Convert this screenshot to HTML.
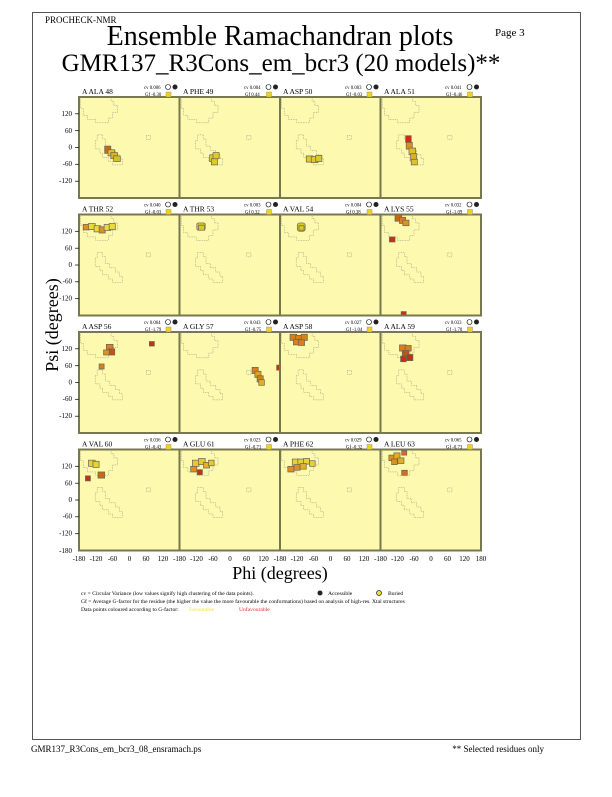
<!DOCTYPE html>
<html><head><meta charset="utf-8"><style>
body{margin:0;width:612px;height:792px;background:#fff;position:relative;font-family:"Liberation Serif",serif;overflow:hidden}
</style></head><body>
<svg width="612" height="792" viewBox="0 0 612 792" xmlns="http://www.w3.org/2000/svg" font-family="Liberation Serif, serif">
<defs>
<g id="bg">
<rect x="-180" y="-180" width="360" height="360" fill="#fdf9ae"/>
<g fill="none" stroke="#777" stroke-width="1.6" stroke-dasharray="3 3">
<polygon points="-174,-180 -174,-140 -165,-140 -165,-115 -150,-115 -150,-100 -120,-100 -120,-88 -75,-88 -75,-105 -60,-105 -60,-125 -42,-125 -42,-150 -55,-150 -55,-165 -65,-165 -65,-180"/>
<polygon points="-115,-45 -115,-25 -122,-25 -122,5 -105,5 -105,20 -95,20 -95,35 -75,35 -75,50 -60,50 -60,62 -25,62 -25,40 -35,40 -35,25 -50,25 -50,10 -70,10 -70,-5 -85,-5 -85,-30 -95,-30 -95,-45"/>
<rect x="61" y="-43" width="15" height="14"/>
</g>
</g>
</defs>
<rect x="32.5" y="12.5" width="548" height="727" fill="none" stroke="#555" stroke-width="1"/>
<text x="45" y="23" font-size="9">PROCHECK-NMR</text>
<text x="495" y="36" font-size="11">Page  3</text>
<text x="280" y="45" font-size="28" text-anchor="middle">Ensemble Ramachandran plots</text>
<text x="281" y="71" font-size="25" text-anchor="middle">GMR137_R3Cons_em_bcr3 (20 models)**</text>

<g stroke="#665" stroke-width="2.5">
<!-- row1 -->
<svg x="79" y="97" width="100.5" height="101" viewBox="-180 -180 360 360" preserveAspectRatio="none"><use href="#bg"/>
<g><rect x="-88" y="-5" width="22" height="26" fill="#c86a10"/><rect x="-76" y="8" width="24" height="22" fill="#e8c020"/><rect x="-66" y="18" width="24" height="22" fill="#e0b020"/><rect x="-56" y="30" width="24" height="20" fill="#d8c020"/></g></svg>
<svg x="179.5" y="97" width="100.5" height="101" viewBox="-180 -180 360 360" preserveAspectRatio="none"><use href="#bg"/>
<g fill="#e0c830"><rect x="-72" y="26" width="24" height="24"/><rect x="-66" y="40" width="22" height="22"/><rect x="-60" y="18" width="22" height="22"/></g></svg>
<svg x="280" y="97" width="100.5" height="101" viewBox="-180 -180 360 360" preserveAspectRatio="none"><use href="#bg"/>
<g fill="#e0c830"><rect x="-86" y="30" width="24" height="22"/><rect x="-68" y="32" width="24" height="22"/><rect x="-52" y="28" width="22" height="22"/></g></svg>
<svg x="380.5" y="97" width="100.5" height="101" viewBox="-180 -180 360 360" preserveAspectRatio="none"><use href="#bg"/>
<g><rect x="-90" y="-42" width="20" height="24" fill="#c83010"/><rect x="-88" y="-18" width="22" height="24" fill="#d89020"/><rect x="-78" y="2" width="24" height="24" fill="#e0c030"/><rect x="-72" y="22" width="22" height="24" fill="#d8b020"/><rect x="-70" y="42" width="22" height="20" fill="#e0c030"/></g></svg>
<!-- row2 -->
<svg x="79" y="214.5" width="100.5" height="101" viewBox="-180 -180 360 360" preserveAspectRatio="none"><use href="#bg"/>
<g><rect x="-165" y="-145" width="22" height="20" fill="#e09020"/><rect x="-146" y="-148" width="24" height="22" fill="#eed840"/><rect x="-126" y="-140" width="24" height="22" fill="#eed840"/><rect x="-108" y="-136" width="22" height="22" fill="#e09020"/><rect x="-90" y="-145" width="24" height="22" fill="#eed840"/><rect x="-72" y="-148" width="22" height="22" fill="#eed840"/></g></svg>
<svg x="179.5" y="214.5" width="100.5" height="101" viewBox="-180 -180 360 360" preserveAspectRatio="none"><use href="#bg"/>
<g fill="#d8c828"><rect x="-118" y="-150" width="30" height="26" rx="6"/><rect x="-112" y="-142" width="22" height="18"/></g></svg>
<svg x="280" y="214.5" width="100.5" height="101" viewBox="-180 -180 360 360" preserveAspectRatio="none"><use href="#bg"/>
<g fill="#d8c828"><rect x="-118" y="-150" width="28" height="30" rx="8"/><rect x="-112" y="-140" width="18" height="16"/></g></svg>
<svg x="380.5" y="214.5" width="100.5" height="101" viewBox="-180 -180 360 360" preserveAspectRatio="none"><use href="#bg"/>
<g><rect x="-128" y="-178" width="24" height="22" fill="#c86a10"/><rect x="-112" y="-170" width="22" height="22" fill="#d88020"/><rect x="-100" y="-160" width="22" height="20" fill="#e09020"/><rect x="-148" y="-100" width="20" height="18" fill="#c83010"/><rect x="-106" y="166" width="18" height="16" fill="#c83010"/></g></svg>
<!-- row3 -->
<svg x="79" y="332" width="100.5" height="101" viewBox="-180 -180 360 360" preserveAspectRatio="none"><use href="#bg"/>
<g><rect x="-82" y="-136" width="24" height="24" fill="#d88020"/><rect x="-74" y="-120" width="22" height="22" fill="#c85010"/><rect x="-92" y="-116" width="20" height="18" fill="#e09020"/><rect x="72" y="-146" width="18" height="16" fill="#c83010"/><rect x="-108" y="-66" width="18" height="18" fill="#d88020"/></g></svg>
<svg x="179.5" y="332" width="100.5" height="101" viewBox="-180 -180 360 360" preserveAspectRatio="none"><use href="#bg"/>
<g><rect x="80" y="-54" width="22" height="22" fill="#d88020"/><rect x="90" y="-40" width="22" height="22" fill="#e0a020"/><rect x="98" y="-24" width="22" height="22" fill="#d88020"/><rect x="104" y="-10" width="20" height="20" fill="#e0b020"/><rect x="168" y="-62" width="16" height="18" fill="#c83010"/></g></svg>
<svg x="280" y="332" width="100.5" height="101" viewBox="-180 -180 360 360" preserveAspectRatio="none"><use href="#bg"/>
<g fill="#d88020"><rect x="-144" y="-172" width="24" height="22"/><rect x="-124" y="-168" width="24" height="22"/><rect x="-104" y="-172" width="22" height="22"/><rect x="-132" y="-154" width="22" height="20"/><rect x="-114" y="-152" width="22" height="20"/></g></svg>
<svg x="380.5" y="332" width="100.5" height="101" viewBox="-180 -180 360 360" preserveAspectRatio="none"><use href="#bg"/>
<g><rect x="-112" y="-134" width="24" height="22" fill="#d88020"/><rect x="-92" y="-132" width="22" height="20" fill="#d88020"/><rect x="-102" y="-114" width="24" height="22" fill="#c85010"/><rect x="-86" y="-100" width="22" height="22" fill="#c83010"/><rect x="-108" y="-94" width="20" height="20" fill="#c83010"/></g></svg>
<!-- row4 -->
<svg x="79" y="449.5" width="100.5" height="101" viewBox="-180 -180 360 360" preserveAspectRatio="none"><use href="#bg"/>
<g><rect x="-146" y="-142" width="24" height="22" fill="#e8d038"/><rect x="-130" y="-138" width="22" height="22" fill="#e8d038"/><rect x="-112" y="-100" width="24" height="22" fill="#c86a10"/><rect x="-157" y="-86" width="18" height="18" fill="#c83010"/></g></svg>
<svg x="179.5" y="449.5" width="100.5" height="101" viewBox="-180 -180 360 360" preserveAspectRatio="none"><use href="#bg"/>
<g><rect x="-134" y="-142" width="24" height="22" fill="#e8c838"/><rect x="-112" y="-148" width="24" height="22" fill="#e8c838"/><rect x="-94" y="-134" width="22" height="20" fill="#e0b030"/><rect x="-140" y="-120" width="22" height="20" fill="#e09020"/><rect x="-76" y="-142" width="20" height="20" fill="#e8c838"/><rect x="-116" y="-108" width="18" height="18" fill="#c83010"/></g></svg>
<svg x="280" y="449.5" width="100.5" height="101" viewBox="-180 -180 360 360" preserveAspectRatio="none"><use href="#bg"/>
<g><rect x="-152" y="-120" width="22" height="20" fill="#e09020"/><rect x="-136" y="-146" width="24" height="22" fill="#e8d038"/><rect x="-116" y="-146" width="24" height="22" fill="#e8d038"/><rect x="-96" y="-148" width="22" height="20" fill="#e8d038"/><rect x="-130" y="-126" width="22" height="20" fill="#e09020"/><rect x="-108" y="-130" width="22" height="20" fill="#e0b030"/><rect x="-74" y="-140" width="20" height="20" fill="#e8d038"/></g></svg>
<svg x="380.5" y="449.5" width="100.5" height="101" viewBox="-180 -180 360 360" preserveAspectRatio="none"><use href="#bg"/>
<g><rect x="-150" y="-160" width="22" height="20" fill="#e09020"/><rect x="-132" y="-168" width="22" height="22" fill="#e0b020"/><rect x="-140" y="-146" width="20" height="20" fill="#e09020"/><rect x="-118" y="-150" width="22" height="20" fill="#e0b020"/><rect x="-104" y="-176" width="18" height="16" fill="#d86a20"/><rect x="-104" y="-106" width="20" height="18" fill="#d86a20"/></g></svg>
</g>
<g stroke="#777750" stroke-width="2" fill="none">
<rect x="79" y="97" width="402" height="101"/><line x1="179.5" y1="97" x2="179.5" y2="198"/><line x1="280" y1="97" x2="280" y2="198"/><line x1="380.5" y1="97" x2="380.5" y2="198"/>
<rect x="79" y="214.5" width="402" height="101"/><line x1="179.5" y1="214.5" x2="179.5" y2="315.5"/><line x1="280" y1="214.5" x2="280" y2="315.5"/><line x1="380.5" y1="214.5" x2="380.5" y2="315.5"/>
<rect x="79" y="332" width="402" height="101"/><line x1="179.5" y1="332" x2="179.5" y2="433"/><line x1="280" y1="332" x2="280" y2="433"/><line x1="380.5" y1="332" x2="380.5" y2="433"/>
<rect x="79" y="449.5" width="402" height="101"/><line x1="179.5" y1="449.5" x2="179.5" y2="550.5"/><line x1="280" y1="449.5" x2="280" y2="550.5"/><line x1="380.5" y1="449.5" x2="380.5" y2="550.5"/>
</g>
<g font-size="7" text-anchor="end">
<g id="yt"><text x="72" y="116">120</text><text x="72" y="133">60</text><text x="72" y="149.5">0</text><text x="72" y="166">-60</text><text x="72" y="183">-120</text></g>
<use href="#yt" y="117.5"/><use href="#yt" y="235"/><use href="#yt" y="352.5"/>
<text x="72" y="553">-180</text>
</g>
<g stroke="#000" stroke-width="0.7">
<g id="ytl"><line x1="75" y1="113.8" x2="79" y2="113.8"/><line x1="75" y1="130.7" x2="79" y2="130.7"/><line x1="75" y1="147.5" x2="79" y2="147.5"/><line x1="75" y1="164.3" x2="79" y2="164.3"/><line x1="75" y1="181.2" x2="79" y2="181.2"/></g>
<use href="#ytl" y="117.5"/><use href="#ytl" y="235"/><use href="#ytl" y="352.5"/>
</g>
<g font-size="7" text-anchor="middle">
<g id="xt"><text x="79" y="561">-180</text><text x="96" y="561">-120</text><text x="112.5" y="561">-60</text><text x="129.5" y="561">0</text><text x="146" y="561">60</text><text x="163" y="561">120</text></g>
<use href="#xt" x="100.5"/><use href="#xt" x="201"/><use href="#xt" x="301.5"/>
<text x="481" y="561">180</text>
</g>
<text x="280" y="579" font-size="18" text-anchor="middle">Phi (degrees)</text>
<text transform="translate(58,325) rotate(-90)" font-size="18" text-anchor="middle">Psi (degrees)</text>
<g font-size="7.5">
<text x="82" y="94">A ALA 48</text><text x="183" y="94">A PHE 49</text><text x="283" y="94">A ASP 50</text><text x="384" y="94">A ALA 51</text>
<text x="82" y="211.5">A THR 52</text><text x="183" y="211.5">A THR 53</text><text x="283" y="211.5">A VAL 54</text><text x="384" y="211.5">A LYS 55</text>
<text x="82" y="329">A ASP 56</text><text x="183" y="329">A GLY 57</text><text x="283" y="329">A ASP 58</text><text x="384" y="329">A ALA 59</text>
<text x="82" y="446.5">A VAL 60</text><text x="183" y="446.5">A GLU 61</text><text x="283" y="446.5">A PHE 62</text><text x="384" y="446.5">A LEU 63</text>
</g>
<g font-size="4.8">
<text x="144" y="89">cv 0.006</text><text x="145" y="96">Gf -0.30</text>
<text x="244" y="89">cv 0.004</text><text x="245" y="96">Gf 0.44</text>
<text x="345" y="89">cv 0.003</text><text x="346" y="96">Gf -0.03</text>
<text x="445" y="89">cv 0.041</text><text x="446" y="96">Gf -0.46</text>
<text x="144" y="206.5">cv 0.040</text><text x="145" y="213.5">Gf -0.03</text>
<text x="244" y="206.5">cv 0.003</text><text x="245" y="213.5">Gf 0.32</text>
<text x="345" y="206.5">cv 0.004</text><text x="346" y="213.5">Gf 0.38</text>
<text x="445" y="206.5">cv 0.032</text><text x="446" y="213.5">Gf -1.09</text>
<text x="144" y="324">cv 0.064</text><text x="145" y="331">Gf -1.79</text>
<text x="244" y="324">cv 0.043</text><text x="245" y="331">Gf -0.75</text>
<text x="345" y="324">cv 0.027</text><text x="346" y="331">Gf -1.04</text>
<text x="445" y="324">cv 0.033</text><text x="446" y="331">Gf -1.70</text>
<text x="144" y="441.5">cv 0.036</text><text x="145" y="448.5">Gf -0.43</text>
<text x="244" y="441.5">cv 0.023</text><text x="245" y="448.5">Gf -0.71</text>
<text x="345" y="441.5">cv 0.029</text><text x="346" y="448.5">Gf -0.32</text>
<text x="445" y="441.5">cv 0.065</text><text x="446" y="448.5">Gf -0.73</text>
</g>
<g id="ic">
<circle cx="168" cy="87" r="2.5" fill="#fff" stroke="#000" stroke-width="0.6"/><circle cx="175" cy="87" r="2.5" fill="#222"/><rect x="166" y="92" width="5" height="5" fill="#f0d020" stroke="#886" stroke-width="0.4"/>
</g>
<use href="#ic" x="100.5"/><use href="#ic" x="201"/><use href="#ic" x="301.5"/>
<use href="#ic" y="117.5"/><use href="#ic" x="100.5" y="117.5"/><use href="#ic" x="201" y="117.5"/><use href="#ic" x="301.5" y="117.5"/>
<use href="#ic" y="235"/><use href="#ic" x="100.5" y="235"/><use href="#ic" x="201" y="235"/><use href="#ic" x="301.5" y="235"/>
<use href="#ic" y="352.5"/><use href="#ic" x="100.5" y="352.5"/><use href="#ic" x="201" y="352.5"/><use href="#ic" x="301.5" y="352.5"/>
<g font-size="5.6">
<text x="81" y="595">cv = Circular Variance (low values signify high clustering of the data points).</text>
<circle cx="320" cy="593" r="2.5" fill="#222"/><text x="328" y="595">Accessible</text>
<circle cx="379" cy="593" r="2.5" fill="#f0e020" stroke="#222" stroke-width="0.7"/><text x="388" y="595">Buried</text>
<text x="81" y="603">Gf = Average G-factor for the residue (the higher the value the more favourable the conformations) based on analysis of high-res. Xtal structures</text>
<text x="81" y="611">Data points coloured according to G-factor:</text>
<text x="189" y="611" fill="#f0e040">Favourable</text>
<text x="239" y="611" fill="#e03030">Unfavourable</text>
</g>
<text x="31" y="752" font-size="9">GMR137_R3Cons_em_bcr3_08_ensramach.ps</text>
<text x="544" y="752" font-size="9" text-anchor="end">** Selected residues only</text>
</svg>
</body></html>
